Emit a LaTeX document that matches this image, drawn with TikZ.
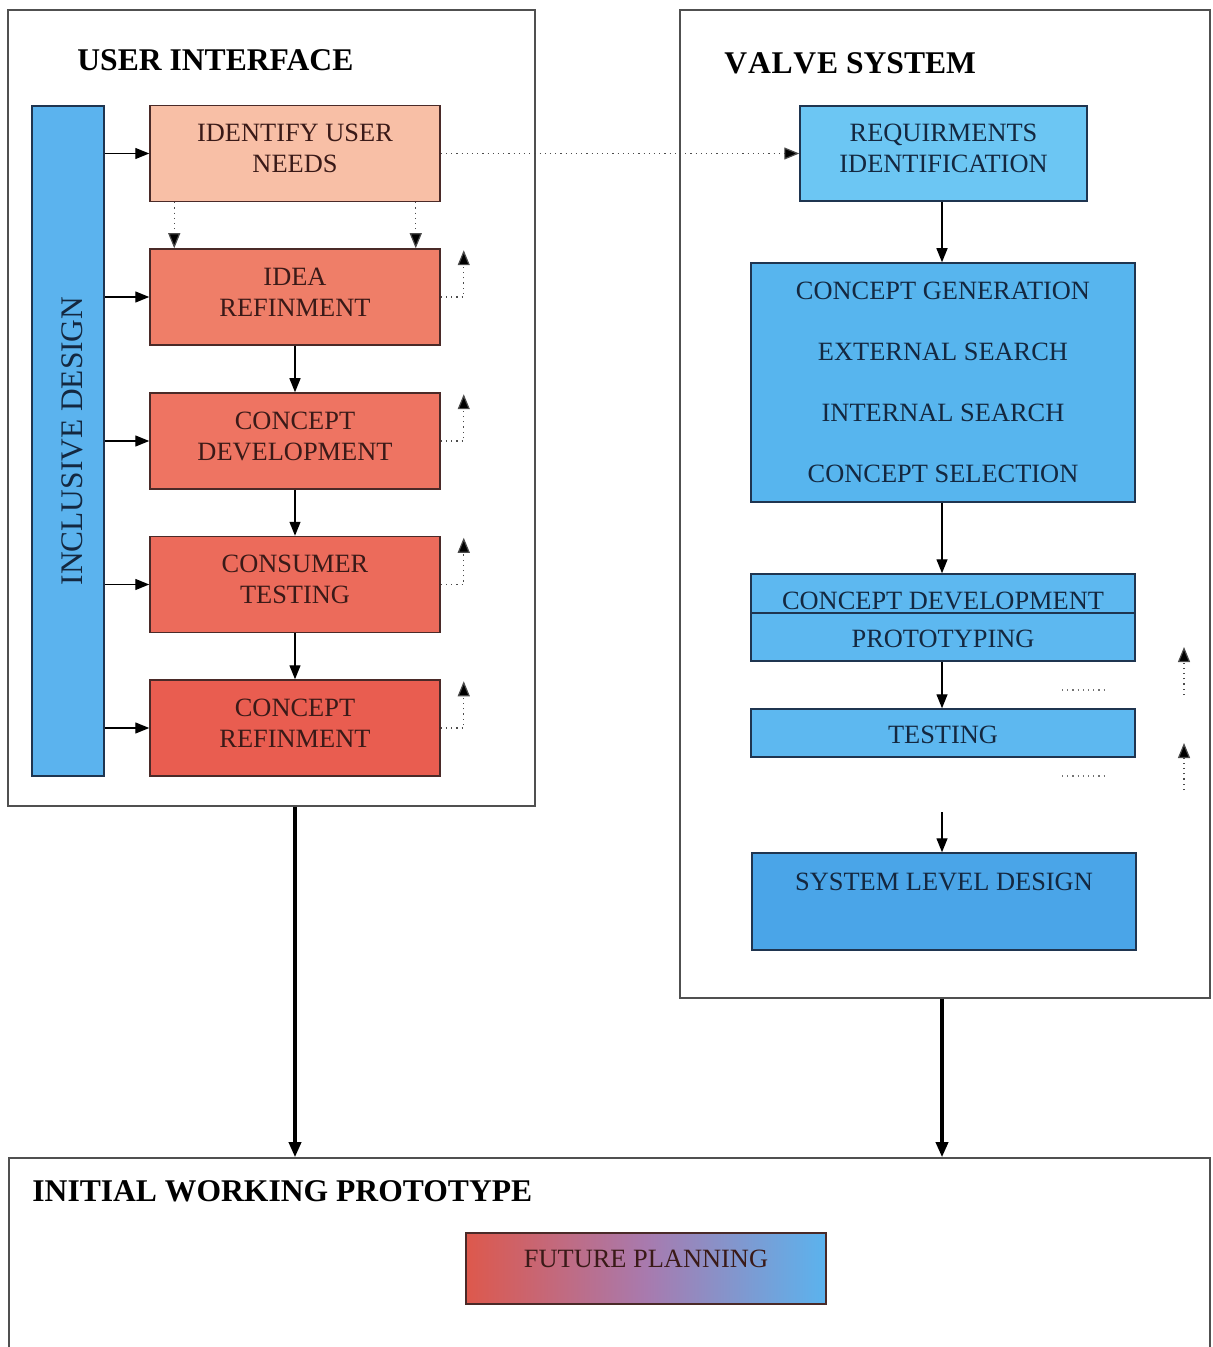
\documentclass[tikz,border=0pt]{standalone}
\usepackage{fontspec}
\setmainfont{Liberation Serif}
\usetikzlibrary{arrows.meta,calc}

\definecolor{peach}{HTML}{F8BFA6}
\definecolor{ideac}{HTML}{EF7E68}
\definecolor{cdevc}{HTML}{EE7462}
\definecolor{ctestc}{HTML}{EC6B5B}
\definecolor{crefc}{HTML}{E95D50}
\definecolor{barc}{HTML}{5BB3EE}
\definecolor{reqc}{HTML}{6CC6F3}
\definecolor{genc}{HTML}{57B5EE}
\definecolor{protoc}{HTML}{5DB8F0}
\definecolor{sldc}{HTML}{4AA5E8}
\definecolor{redge}{HTML}{4A2A28}
\definecolor{bedge}{HTML}{1F3550}
\definecolor{rtext}{HTML}{3A1A18}
\definecolor{btext}{HTML}{142840}
\definecolor{panel}{HTML}{505050}
\definecolor{midpurple}{HTML}{A87AAE}

\newcommand\boxfont{\fontsize{13.2}{15.5}\selectfont}
\newcommand\headfont{\fontsize{15.8}{18}\selectfont\bfseries}

\begin{document}
\begin{tikzpicture}[x=0.5pt,y=-0.5pt,
  panelbox/.style={draw=panel,line width=0.8pt,inner sep=0pt},
  heading/.style={font=\headfont,inner sep=0pt,anchor=base west},
  lbox/.style={draw=redge,line width=0.75pt,minimum width=145pt,minimum height=48pt,
    inner sep=0pt,align=center,font=\boxfont,text=rtext,text depth=5pt},
  rbox/.style={draw=bedge,line width=0.75pt,minimum width=192pt,inner sep=0pt,
    align=center,font=\boxfont,text=btext},
  arr/.style={line width=0.7pt,-{Triangle[length=7pt,width=5.5pt]}},
  bigarr/.style={line width=1.7pt,-{Triangle[length=7.5pt,width=6pt]}},
  dotarr/.style={dotted,line width=0.6pt,draw=black!70,
    -{Triangle[length=7.5pt,width=6pt,fill=black]}},
  dotline/.style={dotted,line width=0.6pt,draw=black!55}]

\useasboundingbox (0,0) rectangle (1212,1347);

% ---------- panels ----------
\node[panelbox,minimum width=263.5pt,minimum height=398pt] (ui) at (271.5,408) {};
\node[panelbox,minimum width=265pt,minimum height=494pt] (vs) at (945,504) {};
\node[panelbox,minimum width=600.5pt,minimum height=100pt] (iwp) at (609.5,1258) {};

\node[heading] (uititle) at (77,71) {USER INTERFACE};
\node[heading] (vstitle) at (724,74) {V\kern0.4pt A\kern0.4pt L\kern0.4pt V\kern0.4pt E SYSTEM};
\node[heading] (iwptitle) at (32,1201) {INITIAL WORKING PROTOTYPE};

% ---------- user interface column ----------
\node[draw=bedge,line width=0.75pt,fill=barc,minimum width=36pt,minimum height=335pt,inner sep=0pt]
  (bar) at (68,441) {};
\node[rotate=90,font=\fontsize{15.7}{18}\selectfont,text=btext,inner sep=0pt] (bartext) at (72,441)
  {INCLUSIVE DESIGN};

\node[lbox,fill=peach]  (need) at (295,153.5) {IDENTIFY USER\\NEEDS};
\node[lbox,fill=ideac]  (idea) at (295,297)   {IDEA\\REFINMENT};
\node[lbox,fill=cdevc]  (cdev) at (295,441)   {CONCEPT\\DEVELOPMENT};
\node[lbox,fill=ctestc] (ctest) at (295,584.5) {CONSUMER\\TESTING};
\node[lbox,fill=crefc]  (cref) at (295,728)   {CONCEPT\\REFINMENT};

\foreach \b in {need,idea,cdev,ctest,cref}
  \draw[arr] (bar.east |- \b) -- (\b.west);

\draw[dotarr] ([xshift=12.5pt]need.south west) -- ([xshift=12.5pt]idea.north west);
\draw[dotarr] ([xshift=-12.5pt]need.south east) -- ([xshift=-12.5pt]idea.north east);

\draw[arr] (idea) -- (cdev);
\draw[arr] (cdev) -- (ctest);
\draw[arr] (ctest) -- (cref);

\foreach \b in {idea,cdev,ctest,cref}
  \draw[dotarr] (\b.east) -| ([xshift=11.5pt,yshift=-1pt]\b.north east);

% ---------- valve system column ----------
\node[rbox,minimum width=143.5pt,minimum height=47.5pt,fill=reqc,text depth=5pt] (req) at (943.5,153.5)
  {REQUIRMENTS\\IDENTIFICATION};
\node[rbox,minimum height=119.5pt,fill=genc] (gen) at (943,382.5)
  {CONCEPT GENERATION\\[15pt]EXTERNAL SEARCH\\[15pt]INTERNAL SEARCH\\[15pt]CONCEPT SELECTION};
\node[rbox,minimum height=19.5pt,fill=protoc,text height=15.5pt,text depth=0pt] (protoa) at (943,593.5)
  {CONCEPT DEVELOPMENT};
\node[rbox,minimum height=24pt,fill=protoc,text height=10.7pt,text depth=0pt] (protob) at (943,637)
  {PROTOTYPING};
\node[rbox,minimum height=24pt,fill=protoc,text height=10.7pt,text depth=0pt] (test) at (943,733)
  {TESTING};
\node[rbox,minimum height=48.5pt,fill=sldc] (sld) at (944,901.5) {};
\node[font=\boxfont,text=btext,inner sep=0pt,anchor=base] (sldtext) at (944,890)
  {SYSTEM LEVEL DESIGN};

\draw[dotarr] (need.east) -- (req.west);
\draw[arr] (req.south -| 942,0) -- (gen.north -| 942,0);
\draw[arr] (gen.south -| 942,0) -- (protoa.north -| 942,0);
\draw[arr] (protob.south -| 942,0) -- (test.north -| 942,0);

\coordinate (sldin) at (942,812);
\draw[arr] (sldin) -- (sld.north -| sldin);

% loose dotted return marks beside the prototyping stage
\coordinate (d1a) at (1062,690);  \coordinate (d1b) at (1108,690);
\coordinate (d2a) at (1062,776);  \coordinate (d2b) at (1108,776);
\draw[dotline] (d1a) -- (d1b);
\draw[dotline] (d2a) -- (d2b);
\coordinate (u1a) at (1184,695);  \coordinate (u1b) at (1184,647);
\coordinate (u2a) at (1184,790);  \coordinate (u2b) at (1184,743);
\draw[dotarr] (u1a) -- (u1b);
\draw[dotarr] (u2a) -- (u2b);

% ---------- outputs ----------
\draw[bigarr] (ui.south -| cref) -- (iwp.north -| cref);
\draw[bigarr] (vs.south -| sldin) -- (iwp.north -| sldin);

\node[draw=redge,line width=0.75pt,inner sep=0pt,minimum width=180pt,minimum height=35.5pt,
  left color=crefc!95!black,right color=barc,middle color=midpurple] (future) at (646,1268.5) {};
\node[font=\boxfont,text=rtext,inner sep=0pt] (futuretext) at (646,1259) {FUTURE PLANNING};

\end{tikzpicture}
\end{document}
